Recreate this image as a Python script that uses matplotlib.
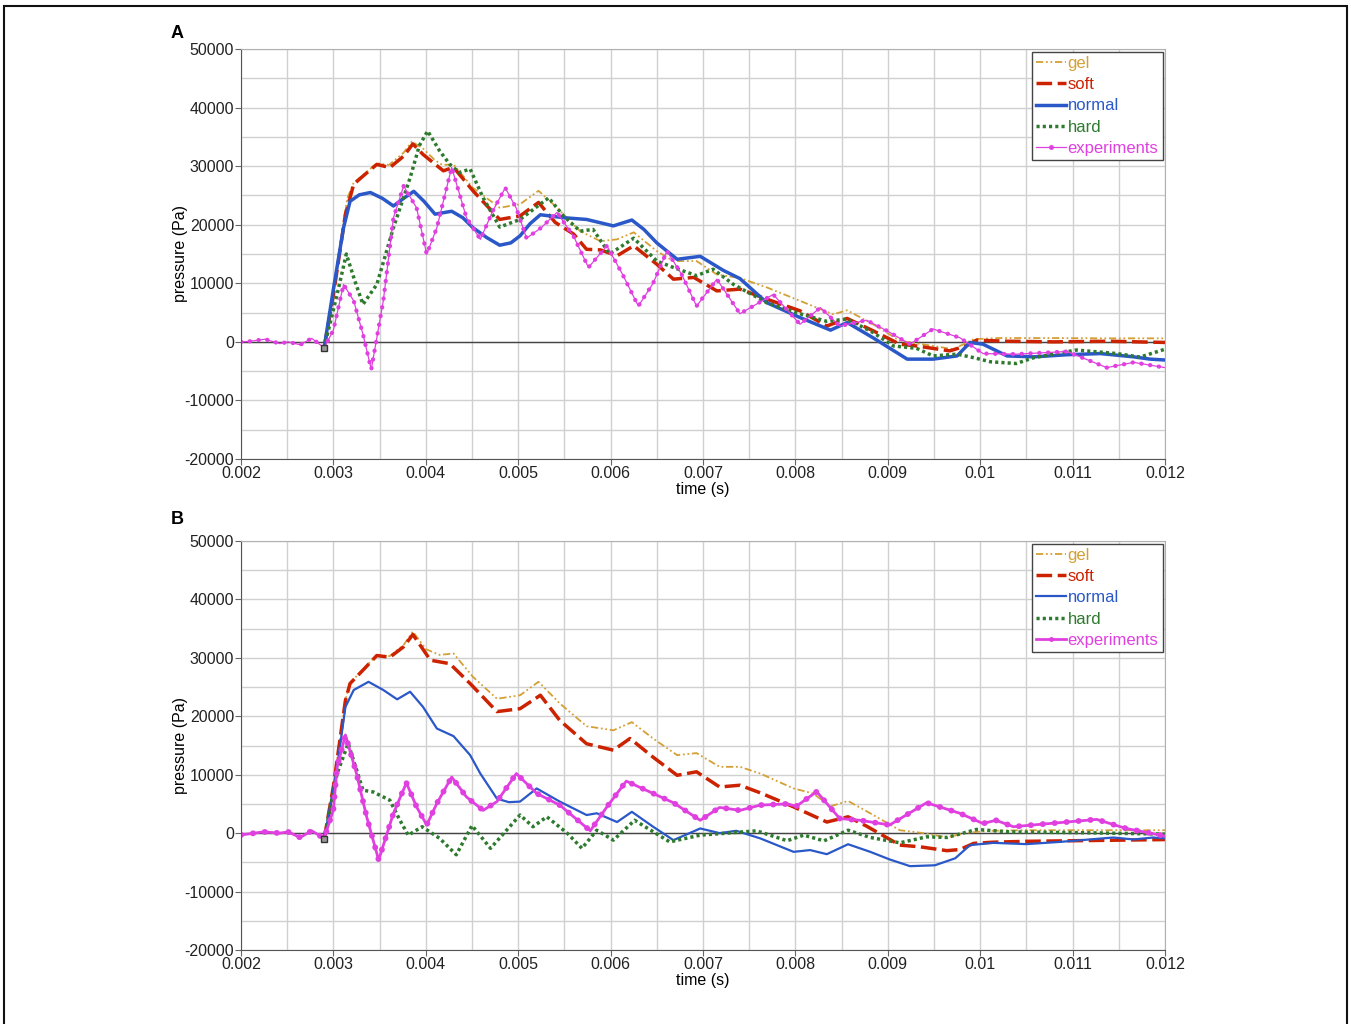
import matplotlib
matplotlib.use('Agg')
import matplotlib.pyplot as plt
from matplotlib.lines import Line2D
from matplotlib.patches import Rectangle
from matplotlib.ticker import MultipleLocator, FixedLocator, FixedFormatter

plt.rcParams['font.family'] = ['Liberation Sans', 'DejaVu Sans']
plt.rcParams['axes.unicode_minus'] = False

# ---- data (time in s, pressure in Pa) ----
x_ticks = [0.002, 0.003, 0.004, 0.005, 0.006, 0.007, 0.008, 0.009, 0.010, 0.011, 0.012]
x_ticklabels = ['0.002', '0.003', '0.004', '0.005', '0.006', '0.007', '0.008',
                '0.009', '0.01', '0.011', '0.012']
y_ticks = [-20000, -10000, 0, 10000, 20000, 30000, 40000, 50000]

# panel A
gel_a_t = [0.0029, 0.0030, 0.00310, 0.00315, 0.00322, 0.00333, 0.00347, 0.00360, 0.00376, 0.00385,
           0.00397, 0.00410, 0.00418, 0.00430, 0.00451, 0.00480, 0.00502, 0.00522, 0.00542, 0.00567,
           0.00589, 0.00607, 0.00625, 0.00650, 0.00668, 0.00693, 0.00715, 0.00740, 0.00769, 0.00805,
           0.00841, 0.00856, 0.00884, 0.00913, 0.00949, 0.00971, 0.00993, 0.0102, 0.0108, 0.0114, 0.0120]
gel_a_p = [-1000, 8000, 19500, 24500, 27200, 28600, 30500, 30200, 32300, 34200,
           33000, 31000, 30200, 30300, 26300, 22900, 23500, 25800, 22900, 18900,
           17200, 17500, 18700, 15500, 13800, 13800, 11500, 10900, 9300, 7000,
           4700, 5400, 3000, 200, -700, -1250, 460, 650, 650, 600, 600]

soft_a_t = [0.0029, 0.0030, 0.00313, 0.00322, 0.00332, 0.00347, 0.00361, 0.00376, 0.00386, 0.00397,
            0.00419, 0.00430, 0.00451, 0.00480, 0.00502, 0.00522, 0.00540, 0.00560, 0.00574, 0.00589,
            0.00607, 0.00625, 0.00650, 0.00668, 0.00690, 0.00715, 0.00740, 0.00769, 0.00805, 0.00834,
            0.00856, 0.00884, 0.00913, 0.00931, 0.00967, 0.00985, 0.00996, 0.0103, 0.0108, 0.0114, 0.0120]
soft_a_p = [-1000, 8000, 21800, 26900, 28300, 30300, 29750, 31700, 33800, 32000,
            29200, 29800, 25800, 20900, 21500, 23800, 20400, 18400, 15800, 15700,
            14700, 16400, 13250, 10700, 11000, 8700, 9000, 7300, 5300, 2700,
            4000, 1900, -400, -700, -1540, -680, 290, 100, 0, 100, -100]

normal_a_t = [0.0029, 0.0030, 0.00311, 0.00318, 0.00328, 0.00340, 0.00353, 0.00365, 0.00376, 0.00387,
              0.00398, 0.00410, 0.00428, 0.00440, 0.00451, 0.00466, 0.00480, 0.00492, 0.00502, 0.00513,
              0.00524, 0.00549, 0.00574, 0.00603, 0.00623, 0.00636, 0.00650, 0.00672, 0.00697, 0.00722,
              0.00740, 0.00769, 0.00805, 0.00838, 0.00856, 0.00884, 0.00921, 0.00949, 0.00975, 0.00989,
              0.01003, 0.01029, 0.01058, 0.01094, 0.01130, 0.01166, 0.01184, 0.0120]
normal_a_p = [-1000, 9000, 19500, 24000, 25100, 25500, 24500, 23200, 24500, 25700,
              24000, 21800, 22300, 21200, 19500, 17800, 16500, 16900, 18100, 20200,
              21700, 21200, 20900, 19800, 20800, 19200, 16900, 14100, 14600, 12200,
              10800, 6700, 4150, 2000, 3300, 700, -2950, -2950, -2400, -100,
              -400, -2400, -2560, -2200, -2000, -2560, -2950, -3100]

hard_a_t = [0.0029, 0.00304, 0.00314, 0.00323, 0.00332, 0.00347, 0.00365, 0.00383, 0.00393, 0.00402,
            0.00415, 0.00426, 0.00436, 0.00448, 0.00462, 0.00480, 0.00502, 0.00533, 0.00549, 0.00567,
            0.00581, 0.00599, 0.00625, 0.00650, 0.00668, 0.00693, 0.00711, 0.00733, 0.00769, 0.00805,
            0.00834, 0.00856, 0.00884, 0.00906, 0.00931, 0.00949, 0.00975, 0.00993, 0.01011, 0.01039,
            0.01058, 0.01104, 0.01148, 0.01173, 0.0120]
hard_a_p = [-1000, 8100, 15000, 10500, 6400, 9800, 19500, 28000, 33500, 36000,
            32600, 30300, 28900, 29500, 24600, 19600, 20900, 24600, 21500, 18900,
            19200, 15000, 17700, 13800, 12700, 11300, 12400, 9800, 6700, 4800,
            3500, 3900, 1600, -700, -1100, -2400, -2100, -2700, -3400, -3700,
            -2700, -1400, -2000, -2600, -1250]

exp_a_t = [0.0020, 0.0021, 0.00226, 0.00242, 0.00251, 0.00264, 0.002765, 0.0029, 0.0030, 0.00311,
           0.00322, 0.00332, 0.00341, 0.00354, 0.00365, 0.00376, 0.00390, 0.00401, 0.00412, 0.00428,
           0.00444, 0.00459, 0.00473, 0.00486, 0.00498, 0.00509, 0.00525, 0.00542, 0.00560, 0.00576,
           0.00596, 0.00613, 0.00630, 0.00646, 0.00661, 0.00677, 0.00693, 0.00715, 0.00740, 0.00776,
           0.00805, 0.00827, 0.00848, 0.00877, 0.00899, 0.00924, 0.00949, 0.00978, 0.01003, 0.01039,
           0.01094, 0.01137, 0.01166, 0.0120]
exp_a_p = [0, 100, 450, -300, 0, -500, 600, -1000, 2000, 9800,
           7000, 1300, -4700, 7000, 21200, 26600, 22900, 14950, 19500, 29800,
           21200, 17500, 22500, 26300, 22800, 17700, 19500, 22100, 18000, 12700,
           16400, 11500, 6100, 10000, 15500, 11500, 6100, 10700, 4800, 8100,
           3000, 5850, 2700, 3700, 1900, -400, 2200, 700, -2000, -2100,
           -1650, -4400, -3500, -4400]

# panel B
gel_b_t = [0.0029, 0.0030, 0.00313, 0.00318, 0.00332, 0.00347, 0.00361, 0.00376, 0.00386, 0.00400,
           0.00415, 0.00430, 0.00451, 0.00477, 0.00502, 0.00522, 0.00545, 0.00574, 0.00603, 0.00623,
           0.00646, 0.00672, 0.00693, 0.00718, 0.00740, 0.00762, 0.00798, 0.00819, 0.00838, 0.00857,
           0.00881, 0.00913, 0.00942, 0.00964, 0.00985, 0.0101, 0.0105, 0.0110, 0.0115, 0.0120]
gel_b_p = [-1000, 8000, 22800, 25700, 28000, 30500, 30300, 32200, 34500, 31500,
           30500, 30750, 26750, 23000, 23600, 25900, 22200, 18300, 17600, 19000,
           16200, 13350, 13700, 11350, 11350, 10200, 7650, 6800, 4600, 5500,
           3400, 500, -60, -740, 50, 400, 500, 500, 500, 500]

soft_b_t = [0.0029, 0.0030, 0.00313, 0.00318, 0.00332, 0.00347, 0.00361, 0.00376, 0.00386, 0.00405,
            0.00426, 0.00448, 0.00477, 0.00502, 0.00524, 0.00545, 0.00574, 0.00603, 0.00621, 0.00646,
            0.00672, 0.00693, 0.00718, 0.00740, 0.00762, 0.00798, 0.00834, 0.00857, 0.00877, 0.00913,
            0.00935, 0.00964, 0.00978, 0.00993, 0.01014, 0.0105, 0.0110, 0.0115, 0.0120]
soft_b_p = [-1000, 8000, 22700, 25600, 27900, 30400, 30100, 31900, 34000, 29600,
            29000, 25600, 20800, 21300, 23600, 19300, 15300, 14200, 16200, 13000,
            9900, 10500, 7900, 8200, 6900, 4500, 1900, 2800, 1200, -2050,
            -2340, -3000, -2800, -1750, -1550, -1400, -1300, -1200, -1100]

normal_b_t = [0.0029, 0.00304, 0.00313, 0.00322, 0.00338, 0.00354, 0.00369, 0.00383, 0.00397, 0.00412,
              0.00430, 0.00448, 0.00459, 0.00477, 0.00490, 0.00502, 0.00520, 0.00545, 0.00574, 0.00585,
              0.00607, 0.00623, 0.00646, 0.00668, 0.00697, 0.00718, 0.00736, 0.00762, 0.00798, 0.00816,
              0.00834, 0.00857, 0.00881, 0.00902, 0.00924, 0.00951, 0.00973, 0.00989, 0.01014, 0.0105,
              0.01086, 0.01144, 0.01166, 0.01187, 0.0120]
normal_b_p = [-1000, 11300, 21600, 24500, 25900, 24500, 22900, 24200, 21600, 17900,
              16600, 13350, 10200, 5900, 5300, 5400, 7650, 5400, 3100, 3400,
              1900, 3650, 1100, -1200, 800, 0, 400, -900, -3200, -2900,
              -3600, -1900, -3200, -4500, -5650, -5500, -4300, -2050, -1660, -1880,
              -1500, -750, -1080, -750, -900]

hard_b_t = [0.0029, 0.00304, 0.00316, 0.00332, 0.00343, 0.00361, 0.00372, 0.00381, 0.00396, 0.00415,
            0.00433, 0.00450, 0.00470, 0.00502, 0.00516, 0.00531, 0.00553, 0.00569, 0.00585, 0.00603,
            0.00626, 0.00664, 0.00697, 0.00726, 0.00758, 0.00791, 0.00809, 0.00831, 0.00857, 0.00881,
            0.00913, 0.00942, 0.00964, 0.00996, 0.01032, 0.01122, 0.0120]
hard_b_p = [-1000, 10200, 15350, 7350, 7050, 5650, 2200, -350, 1100, -900,
            -3700, 1300, -2600, 3100, 1100, 2800, 0, -2600, 500, -1200,
            2200, -1500, -340, 0, 400, -1300, -340, -1320, 500, -740,
            -1660, -630, -740, 630, 220, 50, -170]

exp_b_t = [0.0020, 0.0021, 0.00224, 0.00242, 0.00251, 0.00264, 0.002765, 0.0029, 0.0030, 0.00304,
           0.00313, 0.00325, 0.00336, 0.00349, 0.00365, 0.00379, 0.00390, 0.00401, 0.00412, 0.00428,
           0.00444, 0.00462, 0.00477, 0.00498, 0.00520, 0.00545, 0.00578, 0.00596, 0.00617, 0.00646,
           0.00668, 0.00697, 0.00718, 0.00740, 0.00762, 0.00791, 0.00801, 0.00823, 0.00848, 0.00870,
           0.00902, 0.00942, 0.00978, 0.01003, 0.01017, 0.01036, 0.01068, 0.01126, 0.01158, 0.0120]
exp_b_p = [-300, -100, 220, 0, 220, -740, 400, -900, 4000, 11300,
           16800, 10200, 2800, -4600, 3400, 8600, 4500, 1400, 5100, 9600,
           6200, 3900, 5400, 10200, 6800, 4800, 400, 4500, 8900, 6800,
           5200, 2200, 4400, 3900, 4800, 5000, 4600, 7100, 2500, 2200,
           1400, 5200, 3400, 1650, 2200, 1100, 1550, 2350, 800, -500]

# ---- styles ----
c_gel = '#D4A035'
c_soft = '#CC2200'
c_normal = '#2A58C8'
c_hard = '#2E7A2E'
c_exp = '#E040E0'
gel_ls = (0, (4, 1.5, 1, 1.5, 1, 1.5))
soft_ls = (0, (4.5, 1.6))
hard_ls = (0, (0.9, 0.9))


def draw_panel(ax, gel, soft, normal, hard, exp, normal_lw, exp_lw):
    ax.plot(gel[0], gel[1], color=c_gel, lw=1.3, linestyle=gel_ls)
    ax.plot(soft[0], soft[1], color=c_soft, lw=2.5, linestyle=soft_ls)
    ax.plot(normal[0], normal[1], color=c_normal, lw=normal_lw)
    ax.plot(hard[0], hard[1], color=c_hard, lw=2.5, linestyle=hard_ls)
    # experiments: thin line plus dense dots
    ax.plot(exp[0], exp[1], color=c_exp, lw=exp_lw)
    ax.plot(exp[0], exp[1], color=c_exp, lw=exp_lw + 2.2,
            linestyle=(0, (0.05, 2.0)), dash_capstyle='round')
    ax.plot([normal[0][0]], [normal[1][0]], marker='s', ms=5,
            mfc='#999999', mec='#333333', mew=1, zorder=5)

    ax.axhline(0, color='#444444', lw=1, zorder=1)
    ax.set_xlim(0.002, 0.012)
    ax.set_ylim(-20000, 50000)
    ax.xaxis.set_major_locator(FixedLocator(x_ticks))
    ax.xaxis.set_major_formatter(FixedFormatter(x_ticklabels))
    ax.xaxis.set_minor_locator(MultipleLocator(0.0005))
    ax.yaxis.set_major_locator(FixedLocator(y_ticks))
    ax.yaxis.set_minor_locator(MultipleLocator(5000))
    ax.grid(True, which='both', color='#D0D0D0', lw=1)
    ax.set_axisbelow(True)
    ax.tick_params(which='major', labelsize=11.5, length=4, color='#666666',
                   labelcolor='#222222', pad=1)
    ax.tick_params(which='minor', length=0)
    for side in ['top', 'right']:
        ax.spines[side].set_color('#B0B0B0')
    for side in ['left', 'bottom']:
        ax.spines[side].set_color('#555555')
    ax.set_xlabel('time (s)', fontsize=11.5, labelpad=1)
    ax.set_ylabel('pressure (Pa)', fontsize=11.5, labelpad=-3)

    handles = [
        Line2D([], [], color=c_gel, lw=1.3, linestyle=gel_ls),
        Line2D([], [], color=c_soft, lw=2.5, linestyle=soft_ls),
        Line2D([], [], color=c_normal, lw=normal_lw),
        Line2D([], [], color=c_hard, lw=2.5, linestyle=hard_ls),
        Line2D([], [], color=c_exp, lw=exp_lw, marker='.', ms=5),
    ]
    leg = ax.legend(handles, ['gel', 'soft', 'normal', 'hard', 'experiments'],
                    loc='upper right', fontsize=12, frameon=True, fancybox=False,
                    edgecolor='#444444', framealpha=1, handlelength=1.8,
                    handletextpad=0.1, labelspacing=0.38, borderpad=0.25,
                    borderaxespad=0.15, numpoints=1)
    leg.get_frame().set_linewidth(1)
    for txt, col in zip(leg.get_texts(), [c_gel, c_soft, c_normal, c_hard, c_exp]):
        txt.set_color(col)


fig = plt.figure(figsize=(13.51, 10.24), dpi=100)
ax_a = fig.add_axes([241 / 1351, 1 - 459 / 1024, 924 / 1351, 410 / 1024])
ax_b = fig.add_axes([241 / 1351, 1 - 950 / 1024, 924 / 1351, 409 / 1024])

draw_panel(ax_a, (gel_a_t, gel_a_p), (soft_a_t, soft_a_p), (normal_a_t, normal_a_p),
           (hard_a_t, hard_a_p), (exp_a_t, exp_a_p), normal_lw=2.5, exp_lw=0.9)
draw_panel(ax_b, (gel_b_t, gel_b_p), (soft_b_t, soft_b_p), (normal_b_t, normal_b_p),
           (hard_b_t, hard_b_p), (exp_b_t, exp_b_p), normal_lw=1.6, exp_lw=2.0)

fig.text(171 / 1351, 1 - 34 / 1024, 'A', fontsize=13, fontweight='bold', va='center')
fig.text(171 / 1351, 1 - 519 / 1024, 'B', fontsize=13, fontweight='bold', va='center')

# thin frame round the whole figure
fig.patches.append(Rectangle((4 / 1351, -0.01), 1343 / 1351, 1.01 - 6 / 1024,
                             transform=fig.transFigure, fill=False,
                             edgecolor='#111111', lw=1.5))

fig.savefig('out.png', dpi=100)
